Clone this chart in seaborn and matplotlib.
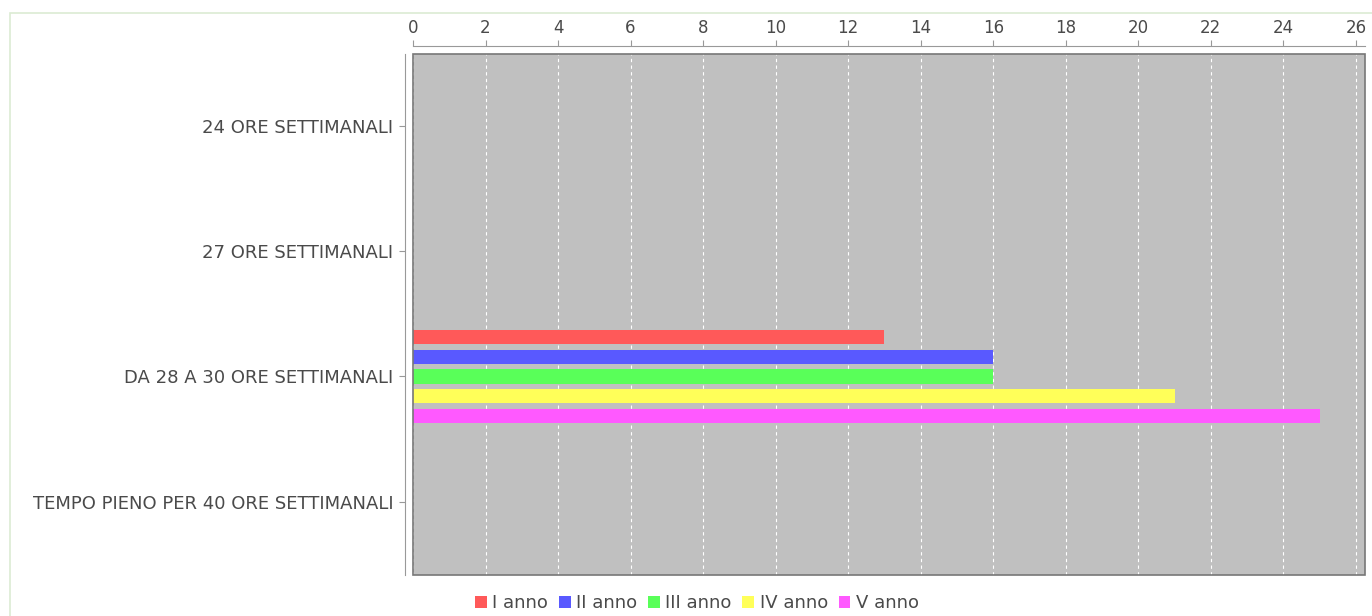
import matplotlib
matplotlib.use("Agg")
import matplotlib.pyplot as plt
import seaborn as sns
import pandas as pd
from matplotlib.patches import Rectangle

categories = ["24 ORE SETTIMANALI", "27 ORE SETTIMANALI",
              "DA 28 A 30 ORE SETTIMANALI", "TEMPO PIENO PER 40 ORE SETTIMANALI"]
years = ["I anno", "II anno", "III anno", "IV anno", "V anno"]
values = {
    "I anno":   [0, 0, 13, 0],
    "II anno":  [0, 0, 16, 0],
    "III anno": [0, 0, 16, 0],
    "IV anno":  [0, 0, 21, 0],
    "V anno":   [0, 0, 25, 0],
}
colors = ["#ff5959", "#5959ff", "#59ff59", "#ffff59", "#ff59ff"]

rows = []
for y in years:
    for c, v in zip(categories, values[y]):
        rows.append({"categoria": c, "anno": y, "valore": v})
df = pd.DataFrame(rows)

sns.set_style("white")
plt.rcParams["font.family"] = ["DejaVu Sans"]
text_color = "#4a4a4a"

fig = plt.figure(figsize=(13.72, 6.16), dpi=100)
# light green frame of the page
fig.patches.append(Rectangle((10 / 1372, -0.1), 1.2, 1 - 13 / 616 + 0.1,
                             transform=fig.transFigure, fill=False,
                             edgecolor="#dcebd3", linewidth=1.2))
ax = fig.add_axes([413 / 1372, 1 - 575 / 616, (1365 - 413) / 1372, (575 - 54) / 616])

sns.barplot(data=df, y="categoria", x="valore", hue="anno", order=categories,
            hue_order=years, palette=colors, orient="h", width=0.79, gap=0.29,
            linewidth=0, saturation=1, ax=ax, legend=False)

ax.set_facecolor("#c0c0c0")
ax.set_xlim(0, 26.25)
ax.set_ylim(3.585, -0.575)
ax.set_xticks(range(0, 27, 2))
ax.xaxis.tick_top()
ax.grid(axis="x", color="white", linestyle=(0, (3, 3)), linewidth=0.8)
ax.set_axisbelow(True)
ax.set_xlabel("")
ax.set_ylabel("")

for s in ["right", "bottom"]:
    ax.spines[s].set_visible(False)
for s in ["top", "left"]:
    ax.spines[s].set_position(("outward", 6))
    ax.spines[s].set_color("#999999")
ax.add_patch(Rectangle((0, 0), 1, 1, transform=ax.transAxes, fill=False,
                       edgecolor="#777777", linewidth=1.2, clip_on=False, zorder=5))

ax.tick_params(axis="x", top=True, length=4, color="#999999", labelsize=12,
               labelcolor=text_color, pad=2)
ax.tick_params(axis="y", left=True, length=4, color="#999999", labelsize=13,
               labelcolor=text_color, pad=4)

handles = [Rectangle((0, 0), 1, 1, facecolor=c, edgecolor="none") for c in colors]
fig.legend(handles, years, loc="center", bbox_to_anchor=(0.508, 1 - 603 / 616),
           ncol=5, frameon=False, fontsize=13, handlelength=0.65, handleheight=0.65,
           handletextpad=0.3, columnspacing=0.6, labelcolor=text_color)

fig.savefig("out.png", dpi=100)
plt.close(fig)
